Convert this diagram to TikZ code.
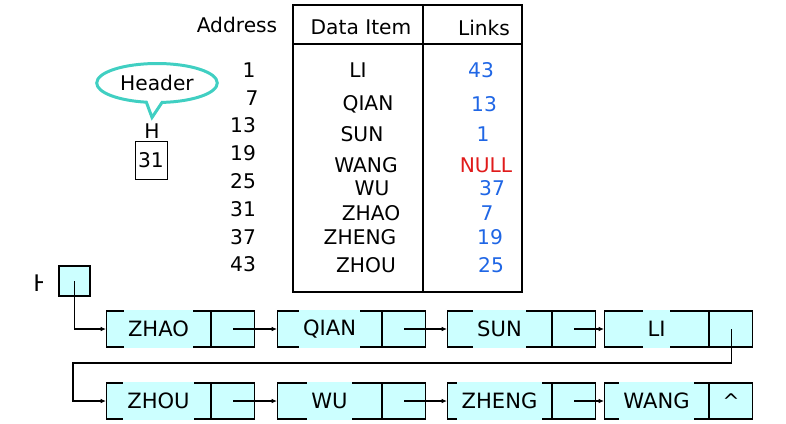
\documentclass[tikz,border=0pt]{standalone}
\usepackage{fontspec}
\setmainfont{DejaVu Sans}
\usetikzlibrary{arrows.meta}
\usetikzlibrary{positioning}
\usetikzlibrary{shapes.callouts}

\definecolor{cellcyan}{RGB}{204,255,255}
\definecolor{linkblue}{RGB}{31,102,229}
\definecolor{nullred}{RGB}{224,27,27}
\definecolor{headerteal}{RGB}{64,207,194}

\begin{document}
\begin{tikzpicture}[x=0.02cm,y=-0.02cm,
  font=\fontsize{11.5}{13}\selectfont,
  datafield/.style={draw,fill=cellcyan,anchor=west,minimum width=2.08cm,minimum height=0.72cm,inner sep=0pt,line width=0.6pt},
  ptrfield/.style={draw,fill=cellcyan,minimum width=0.86cm,minimum height=0.72cm,inner sep=0pt,line width=0.6pt},
  celltext/.style={fill=cellcyan,minimum height=0.76cm,inner xsep=2.5pt,font=\fontsize{12}{14}\selectfont},
  link/.style={line width=0.6pt,-{Latex[length=3pt,width=2.6pt]}}]
\useasboundingbox (0,0) rectangle (786,423);

% the table
\draw[line width=1.6pt] (293,5) rectangle (522,292);
\draw[line width=1.6pt] (293,44) -- (522,44);
\draw[line width=1.6pt] (423,5) -- (423,292);

\node (address) at (237,25) {Address};
\node (dataitem) at (361,27) {Data Item};
\node (links) at (484,28) {Links};

\foreach \a/\ax/\ay/\d/\dx/\dy/\l/\lx in {
    1/249/70/LI/358/70/43/481,
    7/252/98/QIAN/368/104/13/484,
    13/243/125/SUN/362/134/1/483,
    19/243/153/WANG/366/165/{\color{nullred}NULL}/486,
    25/243/181/WU/372/188/37/492,
    31/243/209/ZHAO/371/213/7/487,
    37/243/237/ZHENG/360/237/19/490,
    43/243/264/ZHOU/366/265/25/491}
{
  \node (adr\a) at (\ax,\ay) {\a};
  \node (item\a) at (\dx,\dy) {\d};
  \node[text=linkblue] (lnk\a) at (\lx,\dy) {\l};
}

% header pointer
\node (hname) at (152,131) {H};
\node[draw,minimum width=0.64cm,minimum height=0.76cm,inner sep=0pt] (hbox) at (151,160) {31};
\node[ellipse callout,draw=headerteal,fill=white,line width=1.7pt,
      minimum width=2.4cm,minimum height=0.78cm,
      callout absolute pointer={(hname.north)}] (header) at (157,83) {Header};

% linked list
\begin{scope}
\clip (28,268) rectangle (42.5,298);
\node[font=\fontsize{13}{15}\selectfont] (hcut) at (42,283) {H};
\end{scope}
\node[draw,fill=cellcyan,minimum width=0.62cm,minimum height=0.6cm,inner sep=0pt,line width=0.6pt] (head) at (74.5,281) {};

\foreach \name/\txt/\x/\y in {zhao/ZHAO/106/329, qian/QIAN/277/329, sun/SUN/447/329, li/LI/604/329,
    zhou/ZHOU/106/401, wu/WU/277/401, zheng/ZHENG/447/401, wang/WANG/604/401}
{
  \node[datafield] (\name) at (\x,\y) {};
  \node[ptrfield,right=0pt of \name] (p\name) {};
  \node[celltext] (t\name) at (\name) {\txt};
}
\node (nil) at (pwang) {\^{}};

\draw[link] (head.center) |- (zhao);
\draw[link] (pzhao.center) -- (qian);
\draw[link] (pqian.center) -- (sun);
\draw[link] (psun.center) -- (li);
\coordinate (turn) at (73,363);
\draw[link] (pli.center) |- (turn) |- (zhou);
\draw[link] (pzhou.center) -- (wu);
\draw[link] (pwu.center) -- (zheng);
\draw[link] (pzheng.center) -- (wang);

\end{tikzpicture}
\end{document}
